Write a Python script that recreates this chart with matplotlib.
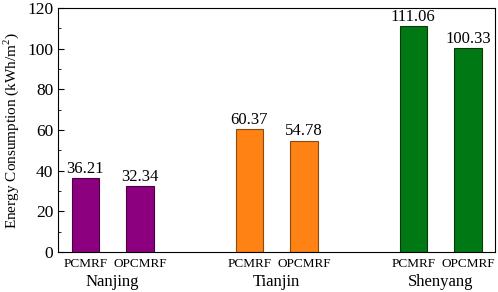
import matplotlib
matplotlib.use('Agg')
import matplotlib.pyplot as plt
from matplotlib.ticker import MultipleLocator

plt.rcParams['font.family'] = ['Liberation Serif', 'DejaVu Serif']
plt.rcParams['mathtext.fontset'] = 'custom'
plt.rcParams['mathtext.rm'] = 'Liberation Serif'

cities = ['Nanjing', 'Tianjin', 'Shenyang']
kinds = ['PCMRF', 'OPCMRF']
values = [[36.21, 32.34], [60.37, 54.78], [111.06, 100.33]]
colors = ['#8c0080', '#ff8214', '#007814']
edges = ['#4a0040', '#8a4a10', '#0a3a0a']

fig = plt.figure(figsize=(4.98, 2.92), dpi=100)
ax = fig.add_axes([0.1165, 0.137, 0.878, 0.836])

pos = []
labs = []
for i, city in enumerate(cities):
    for j, k in enumerate(kinds):
        x = 1 + 3 * i + j
        v = values[i][j]
        ax.bar(x, v, width=0.5, color=colors[i], edgecolor=edges[i], linewidth=0.8)
        ax.text(x, v + 0.6, '%.2f' % v, ha='center', va='bottom', fontsize=12)
        pos.append(x)
        labs.append(k)
    ax.text(1.5 + 3 * i, -11, city, ha='center', va='top', fontsize=12)

ax.set_xlim(0.5, 8.5)
ax.set_ylim(0, 120)
ax.set_xticks(pos)
ax.set_xticklabels(labs, fontsize=9.5)
ax.tick_params(axis='x', length=0, pad=4)
ax.yaxis.set_major_locator(MultipleLocator(20))
ax.yaxis.set_minor_locator(MultipleLocator(10))
ax.tick_params(axis='y', which='major', direction='in', length=4, labelsize=12.5)
ax.tick_params(axis='y', which='minor', direction='in', length=2)
ax.set_ylabel('Energy Consumption (kWh/m$^2$)', fontsize=11, labelpad=4)
for s in ax.spines.values():
    s.set_linewidth(0.8)

fig.savefig('out.png', dpi=100)
